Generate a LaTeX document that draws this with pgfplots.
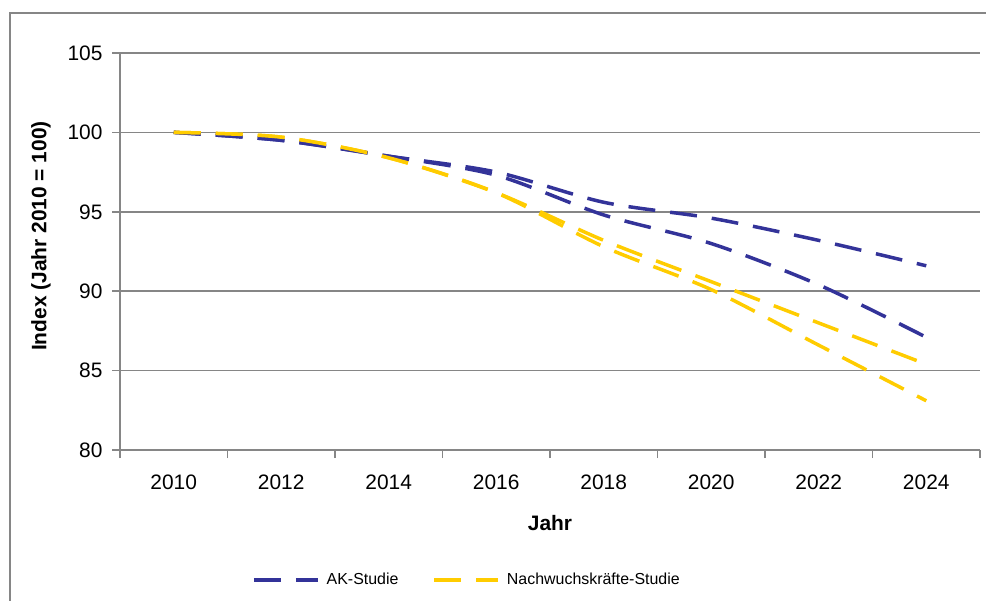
\documentclass[border=0pt]{standalone}
\usepackage{fontspec}
\setmainfont{Liberation Sans}
\usepackage{pgfplots}
\pgfplotsset{compat=1.18}
\definecolor{akblue}{HTML}{333399}
\definecolor{nkyellow}{HTML}{FFCC00}
\definecolor{axgray}{HTML}{868686}
\begin{document}
\begin{tikzpicture}
\useasboundingbox (0bp,0bp) rectangle (986bp,601bp);
\draw[axgray, line width=1.5bp] (10bp,-5bp) -- (10bp,588bp) -- (995bp,588bp);
\begin{axis}[
  at={(120bp,151bp)}, anchor=south west,
  scale only axis, width=860bp, height=397bp,
  xmin=2009, xmax=2025, ymin=80, ymax=105,
  axis lines*=left,
  axis line style={axgray, line width=1.5bp},
  tick style={axgray, line width=1.5bp},
  tick align=outside,
  major tick length=8bp,
  xtick={2009,2011,...,2025},
  xticklabels={},
  extra x ticks={2010,2012,...,2024},
  extra x tick labels={2010,2012,2014,2016,2018,2020,2022,2024},
  extra x tick style={major tick length=0pt, grid=none},
  ytick={80,85,...,105},
  ymajorgrids=true,
  major grid style={axgray, line width=1.5bp},
  /pgf/number format/assume math mode=true,
  /pgf/number format/1000 sep={},
  tick label style={font=\fontsize{21}{25}\selectfont, black},
  xticklabel style={yshift=-21bp},
  yticklabel style={xshift=-6bp},
  xlabel={Jahr},
  ylabel={Index (Jahr 2010 = 100)},
  label style={font=\fontsize{21}{25}\selectfont\bfseries, black},
  xlabel style={at={(axis description cs:0.5,-0.184)}, anchor=center},
  ylabel style={at={(axis description cs:-0.092,0.539)}, anchor=center},
  clip=false,
  legend columns=2,
  legend cell align=left,
  legend style={at={(axis description cs:0.1535,-0.327)}, anchor=west,
    draw=none, fill=none, inner sep=0pt, font=\fontsize{16}{19}\selectfont,
    /tikz/every odd column/.append style={column sep=5bp},
    /tikz/every even column/.append style={column sep=32bp}},
  legend image code/.code={\draw[#1] (0bp,0bp) -- (64bp,0bp);},
  every axis plot/.append style={line width=3.5bp, smooth, dash pattern=on 27bp off 15bp},
]
\addplot[akblue] coordinates {(2010,100) (2012,99.5) (2014,98.5) (2016,97.5) (2018,95.6) (2020,94.6) (2022,93.2) (2024,91.6)};
\addlegendentry{AK-Studie}
\addplot[nkyellow] coordinates {(2010,100) (2012,99.7) (2014,98.4) (2016,96.2) (2018,93.2) (2020,90.6) (2022,88.0) (2024,85.4)};
\addlegendentry{Nachwuchskräfte-Studie}
\addplot[akblue, forget plot] coordinates {(2010,100) (2012,99.5) (2014,98.5) (2016,97.3) (2018,94.8) (2020,93.0) (2022,90.4) (2024,87.1)};
\addplot[nkyellow, forget plot] coordinates {(2010,100) (2012,99.7) (2014,98.4) (2016,96.2) (2018,92.8) (2020,90.1) (2022,86.6) (2024,83.1)};
\end{axis}
\end{tikzpicture}
\end{document}
